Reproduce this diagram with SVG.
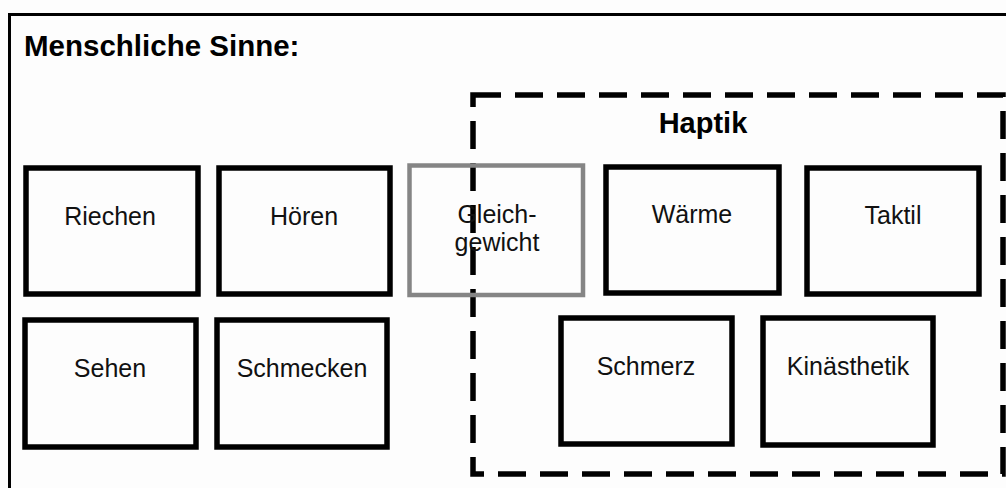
<svg xmlns="http://www.w3.org/2000/svg" width="1006" height="488" viewBox="0 0 1006 488">
  <style>
    .box { fill: none; stroke: #000; stroke-width: 5.5; }
    .box-grey { fill: none; stroke: #858585; stroke-width: 4.5; }
    .label { font-family: "Liberation Sans", Arial, sans-serif; font-size: 25px; fill: #111; text-anchor: middle; }
    .title { font-family: "Liberation Sans", Arial, sans-serif; font-weight: bold; fill: #000; }
    .group-outline { fill: none; stroke: #000; stroke-width: 5.5; stroke-dasharray: 28 14; }
  </style>

  <!-- paper background and frame -->
  <rect x="0" y="0" width="1006" height="488" fill="#fdfdfd"/>
  <path d="M9.5 488 V14.5 H1006" fill="none" stroke="#000" stroke-width="3"/>

  <text class="title" x="24" y="56" font-size="29.5">Menschliche Sinne:</text>

  <!-- dashed grouping: Haptik -->
  <g id="haptik-group">
    <rect class="group-outline" x="473" y="95" width="530" height="379"/>
    <text class="title" x="703" y="133" font-size="29" text-anchor="middle">Haptik</text>
  </g>

  <g id="connectors"></g>

  <g id="riechen">
    <rect class="box" x="26" y="168" width="172" height="126"/>
    <text class="label" x="110" y="225">Riechen</text>
  </g>
  <g id="hoeren">
    <rect class="box" x="219" y="168" width="171" height="126"/>
    <text class="label" x="304" y="225">Hören</text>
  </g>
  <g id="gleichgewicht">
    <rect class="box-grey" x="409.5" y="165.5" width="173.5" height="129.5"/>
    <text class="label" x="497" y="223">Gleich-</text>
    <text class="label" x="497" y="251">gewicht</text>
  </g>
  <g id="waerme">
    <rect class="box" x="606" y="167" width="173" height="126"/>
    <text class="label" x="692" y="223">Wärme</text>
  </g>
  <g id="taktil">
    <rect class="box" x="807" y="168" width="172" height="126"/>
    <text class="label" x="893" y="224">Taktil</text>
  </g>
  <g id="sehen">
    <rect class="box" x="25" y="320" width="171" height="127"/>
    <text class="label" x="110" y="377">Sehen</text>
  </g>
  <g id="schmecken">
    <rect class="box" x="217" y="320" width="170" height="127"/>
    <text class="label" x="302" y="377">Schmecken</text>
  </g>
  <g id="schmerz">
    <rect class="box" x="561" y="318" width="171" height="126"/>
    <text class="label" x="646" y="375">Schmerz</text>
  </g>
  <g id="kinaesthetik">
    <rect class="box" x="763" y="318" width="170" height="127"/>
    <text class="label" x="848" y="375">Kinästhetik</text>
  </g>
</svg>
